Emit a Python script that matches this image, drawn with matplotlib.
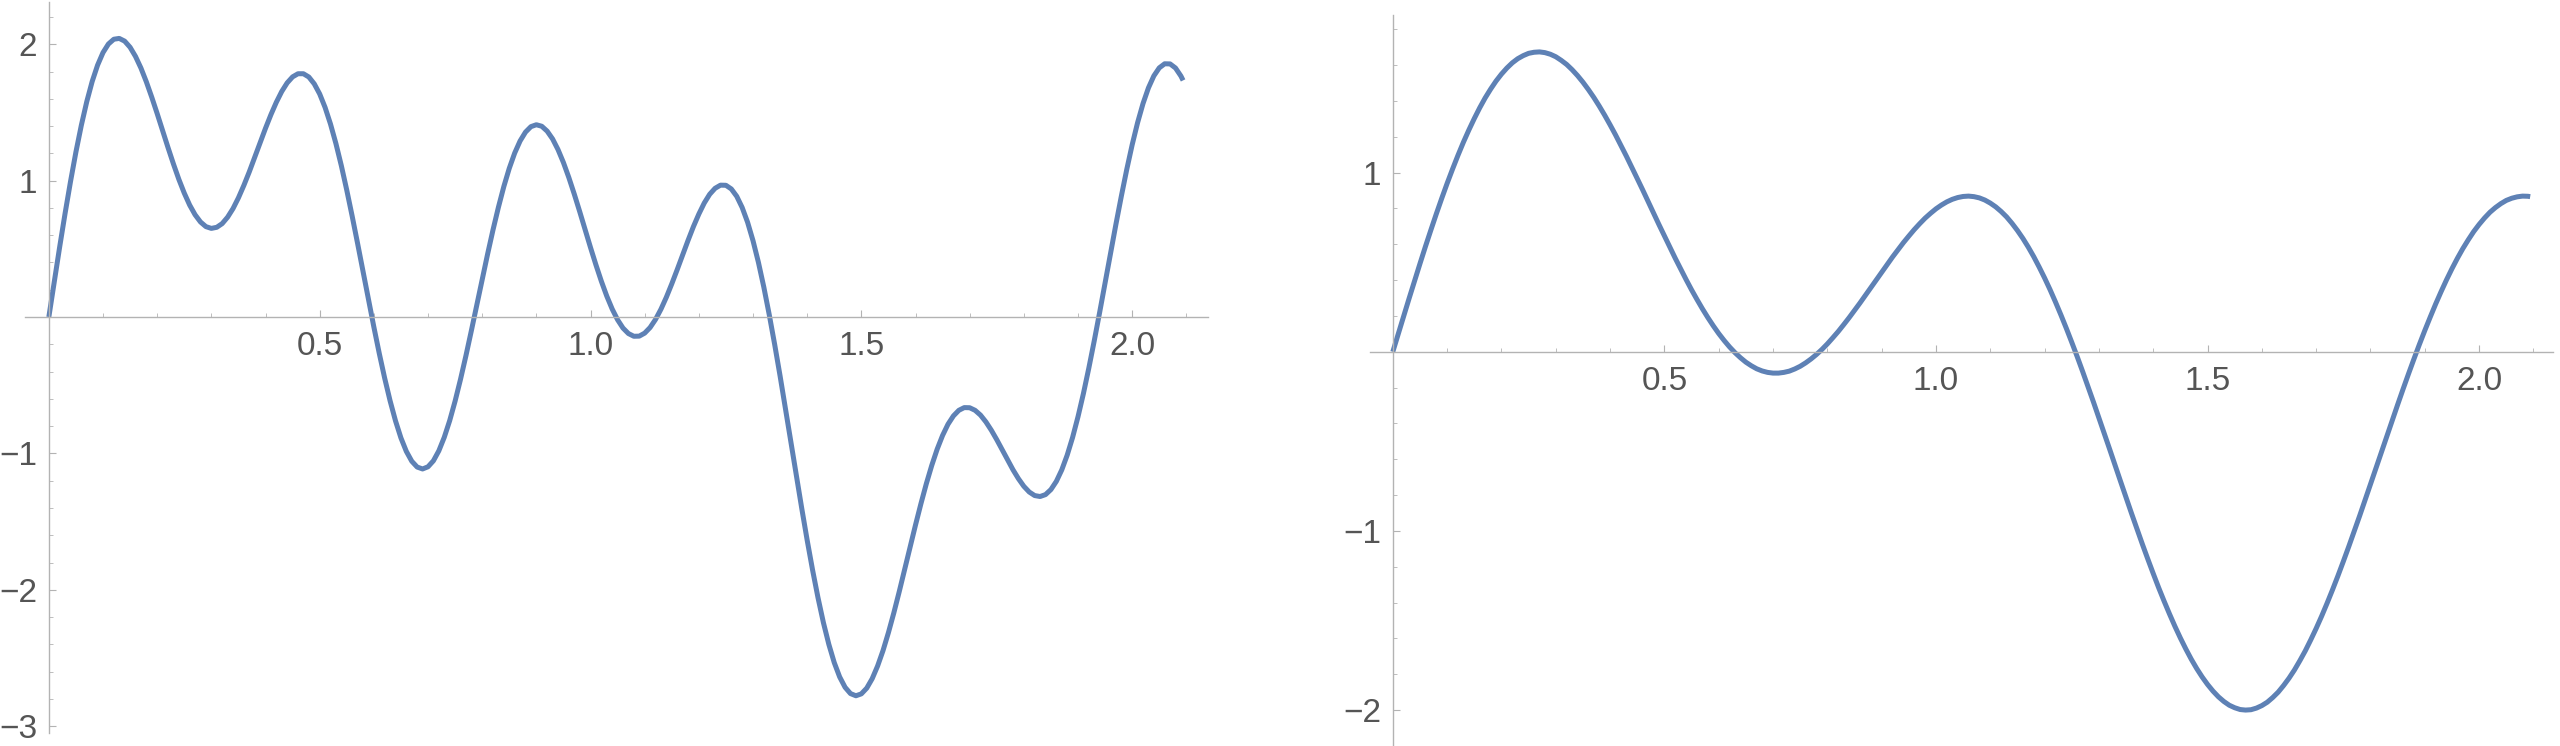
import matplotlib
matplotlib.use("Agg")
import matplotlib.pyplot as plt
from matplotlib.ticker import FixedLocator

# sample positions along x (0 .. 2.094)
x_vals = [0.00, 0.01, 0.02, 0.03, 0.04, 0.05, 0.06, 0.07, 0.08, 0.09,
          0.10, 0.11, 0.12, 0.13, 0.14, 0.15, 0.16, 0.17, 0.18, 0.19,
          0.20, 0.21, 0.22, 0.23, 0.24, 0.25, 0.26, 0.27, 0.28, 0.29,
          0.30, 0.31, 0.32, 0.33, 0.34, 0.35, 0.36, 0.37, 0.38, 0.39,
          0.40, 0.41, 0.42, 0.43, 0.44, 0.45, 0.46, 0.47, 0.48, 0.49,
          0.50, 0.51, 0.52, 0.53, 0.54, 0.55, 0.56, 0.57, 0.58, 0.59,
          0.60, 0.61, 0.62, 0.63, 0.64, 0.65, 0.66, 0.67, 0.68, 0.69,
          0.70, 0.71, 0.72, 0.73, 0.74, 0.75, 0.76, 0.77, 0.78, 0.79,
          0.80, 0.81, 0.82, 0.83, 0.84, 0.85, 0.86, 0.87, 0.88, 0.89,
          0.90, 0.91, 0.92, 0.93, 0.94, 0.95, 0.96, 0.97, 0.98, 0.99,
          1.00, 1.01, 1.02, 1.03, 1.04, 1.05, 1.06, 1.07, 1.08, 1.09,
          1.10, 1.11, 1.12, 1.13, 1.14, 1.15, 1.16, 1.17, 1.18, 1.19,
          1.20, 1.21, 1.22, 1.23, 1.24, 1.25, 1.26, 1.27, 1.28, 1.29,
          1.30, 1.31, 1.32, 1.33, 1.34, 1.35, 1.36, 1.37, 1.38, 1.39,
          1.40, 1.41, 1.42, 1.43, 1.44, 1.45, 1.46, 1.47, 1.48, 1.49,
          1.50, 1.51, 1.52, 1.53, 1.54, 1.55, 1.56, 1.57, 1.58, 1.59,
          1.60, 1.61, 1.62, 1.63, 1.64, 1.65, 1.66, 1.67, 1.68, 1.69,
          1.70, 1.71, 1.72, 1.73, 1.74, 1.75, 1.76, 1.77, 1.78, 1.79,
          1.80, 1.81, 1.82, 1.83, 1.84, 1.85, 1.86, 1.87, 1.88, 1.89,
          1.90, 1.91, 1.92, 1.93, 1.94, 1.95, 1.96, 1.97, 1.98, 1.99,
          2.00, 2.01, 2.02, 2.03, 2.04, 2.05, 2.06, 2.07, 2.08, 2.09,
          2.094]

# left curve (fast wiggles)
y_left = [0.000, 0.259, 0.514, 0.760, 0.993, 1.210, 1.406, 1.579, 1.727, 1.847,
          1.939, 2.002, 2.037, 2.043, 2.023, 1.978, 1.911, 1.826, 1.725, 1.612,
          1.492, 1.367, 1.243, 1.123, 1.010, 0.909, 0.821, 0.750, 0.697, 0.663,
          0.650, 0.658, 0.685, 0.732, 0.795, 0.874, 0.965, 1.064, 1.170, 1.278,
          1.384, 1.484, 1.575, 1.654, 1.717, 1.761, 1.784, 1.784, 1.760, 1.710,
          1.636, 1.537, 1.415, 1.272, 1.110, 0.931, 0.740, 0.540, 0.335, 0.130,
          -0.072, -0.266, -0.448, -0.614, -0.761, -0.886, -0.985, -1.057, -1.100, -1.114,
          -1.098, -1.054, -0.981, -0.882, -0.760, -0.617, -0.457, -0.284, -0.101, 0.087,
          0.276, 0.461, 0.639, 0.805, 0.957, 1.090, 1.202, 1.291, 1.356, 1.396,
          1.410, 1.399, 1.363, 1.306, 1.228, 1.133, 1.023, 0.902, 0.774, 0.642,
          0.510, 0.383, 0.263, 0.154, 0.059, -0.020, -0.081, -0.121, -0.141, -0.140,
          -0.118, -0.077, -0.018, 0.057, 0.145, 0.243, 0.347, 0.455, 0.561, 0.663,
          0.755, 0.836, 0.900, 0.944, 0.967, 0.966, 0.939, 0.885, 0.803, 0.695,
          0.560, 0.401, 0.219, 0.017, -0.201, -0.432, -0.673, -0.917, -1.162, -1.403,
          -1.636, -1.855, -2.058, -2.241, -2.400, -2.534, -2.639, -2.715, -2.761, -2.777,
          -2.763, -2.721, -2.652, -2.559, -2.446, -2.314, -2.169, -2.013, -1.851, -1.687,
          -1.525, -1.369, -1.222, -1.088, -0.969, -0.868, -0.786, -0.725, -0.684, -0.664,
          -0.665, -0.684, -0.719, -0.769, -0.830, -0.899, -0.973, -1.048, -1.120, -1.185,
          -1.241, -1.283, -1.309, -1.316, -1.302, -1.265, -1.205, -1.121, -1.013, -0.883,
          -0.731, -0.561, -0.374, -0.174, 0.035, 0.250, 0.466, 0.680, 0.886, 1.082,
          1.263, 1.425, 1.565, 1.680, 1.768, 1.827, 1.857, 1.856, 1.826, 1.767,
          1.735]

# right curve (smooth)
y_right = [0.000, 0.100, 0.200, 0.298, 0.396, 0.492, 0.587, 0.679, 0.769, 0.856,
           0.940, 1.020, 1.097, 1.170, 1.238, 1.302, 1.362, 1.417, 1.466, 1.511,
           1.550, 1.584, 1.613, 1.636, 1.653, 1.666, 1.672, 1.674, 1.670, 1.661,
           1.647, 1.627, 1.604, 1.575, 1.542, 1.505, 1.464, 1.420, 1.372, 1.321,
           1.267, 1.211, 1.152, 1.092, 1.030, 0.967, 0.904, 0.839, 0.775, 0.710,
           0.647, 0.584, 0.522, 0.462, 0.403, 0.346, 0.292, 0.240, 0.191, 0.145,
           0.102, 0.063, 0.027, -0.005, -0.033, -0.058, -0.078, -0.095, -0.107, -0.115,
           -0.119, -0.119, -0.115, -0.108, -0.096, -0.081, -0.062, -0.040, -0.015, 0.013,
           0.044, 0.078, 0.113, 0.151, 0.190, 0.231, 0.272, 0.315, 0.358, 0.401,
           0.444, 0.487, 0.529, 0.569, 0.609, 0.646, 0.682, 0.715, 0.746, 0.773,
           0.798, 0.819, 0.837, 0.851, 0.861, 0.867, 0.869, 0.866, 0.859, 0.847,
           0.830, 0.809, 0.783, 0.753, 0.717, 0.677, 0.633, 0.584, 0.531, 0.473,
           0.412, 0.347, 0.278, 0.206, 0.131, 0.053, -0.027, -0.110, -0.195, -0.281,
           -0.369, -0.457, -0.546, -0.636, -0.725, -0.814, -0.902, -0.988, -1.074, -1.157,
           -1.238, -1.317, -1.392, -1.464, -1.533, -1.598, -1.659, -1.716, -1.768, -1.815,
           -1.857, -1.894, -1.926, -1.952, -1.973, -1.987, -1.997, -2.000, -1.998, -1.989,
           -1.975, -1.956, -1.930, -1.900, -1.863, -1.822, -1.776, -1.724, -1.669, -1.608,
           -1.544, -1.476, -1.404, -1.329, -1.251, -1.170, -1.087, -1.002, -0.916, -0.828,
           -0.739, -0.650, -0.561, -0.471, -0.383, -0.295, -0.208, -0.123, -0.040, 0.041,
           0.119, 0.194, 0.267, 0.336, 0.402, 0.464, 0.522, 0.576, 0.625, 0.671,
           0.711, 0.747, 0.779, 0.805, 0.827, 0.845, 0.857, 0.865, 0.869, 0.868,
           0.866]

x_ticks = [0.5, 1.0, 1.5, 2.0]
x_ticklabels = ["0.5", "1.0", "1.5", "2.0"]
left_yticks = [-3, -2, -1, 1, 2]
left_yticklabels = ["\u22123", "\u22122", "\u22121", "1", "2"]
right_yticks = [-2, -1, 1]
right_yticklabels = ["\u22122", "\u22121", "1"]

LINE = "#5E81B5"
AXIS = "#b3b3b3"
LABEL = "#555555"

plt.rcParams["font.family"] = ["Liberation Sans", "DejaVu Sans"]

fig = plt.figure(figsize=(25.6, 7.46), dpi=100)


def setup(ax, xlim, ylim, yticks, yticklabels, yminor):
    ax.set_xlim(*xlim)
    ax.set_ylim(*ylim)
    for s in ["top", "right"]:
        ax.spines[s].set_visible(False)
    ax.spines["left"].set_position(("data", 0))
    ax.spines["bottom"].set_position(("data", 0))
    for s in ["left", "bottom"]:
        ax.spines[s].set_color(AXIS)
        ax.spines[s].set_linewidth(1.0)
    ax.set_xticks(x_ticks)
    ax.set_xticklabels(x_ticklabels)
    ax.set_yticks(yticks)
    ax.set_yticklabels(yticklabels)
    ax.xaxis.set_minor_locator(FixedLocator(
        [t / 10 for t in range(1, 22) if t % 5 != 0]))
    ax.yaxis.set_minor_locator(FixedLocator(yminor))
    ax.tick_params(which="major", direction="in", length=5, width=0.8,
                   color=AXIS, labelcolor=LABEL, labelsize=24)
    ax.tick_params(which="minor", direction="in", length=3, width=0.6,
                   color=AXIS)
    ax.tick_params(axis="x", pad=10)
    ax.tick_params(axis="y", pad=8.5)
    ax.patch.set_visible(False)


ax1 = fig.add_axes([25 / 2560, 13 / 746, 1183 / 2560, 731 / 746])
setup(ax1, (-0.044, 2.14), (-3.05, 2.31), left_yticks, left_yticklabels,
      [t / 5 for t in range(-15, 12) if t % 5 != 0])
ax1.plot(x_vals, y_left, color=LINE, lw=3.6, solid_joinstyle="round",
         solid_capstyle="butt")

ax2 = fig.add_axes([1370 / 2560, 1 / 746, 1183 / 2560, 730 / 746])
setup(ax2, (-0.042, 2.136), (-2.195, 1.88), right_yticks, right_yticklabels,
      [t / 5 for t in range(-10, 10) if t % 5 != 0])
ax2.plot(x_vals, y_right, color=LINE, lw=3.6, solid_joinstyle="round",
         solid_capstyle="butt")

fig.savefig("out.png", dpi=100)
